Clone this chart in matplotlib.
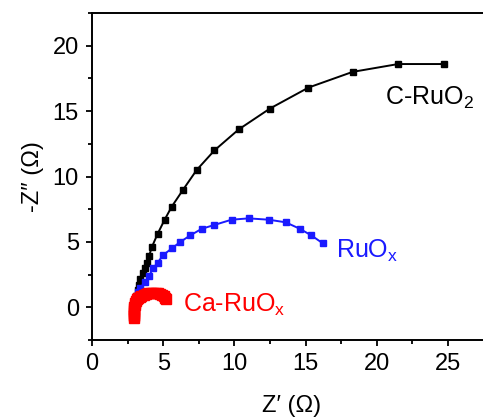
import matplotlib
matplotlib.use("Agg")
import matplotlib.pyplot as plt
from matplotlib.ticker import MultipleLocator

plt.rcParams['font.family'] = ['Liberation Sans', 'DejaVu Sans']
plt.rcParams['mathtext.fontset'] = 'custom'
plt.rcParams['mathtext.rm'] = 'Liberation Sans'
plt.rcParams['mathtext.it'] = 'Liberation Sans'

# C-RuO2
c_ruo2_x = [3.0, 3.1, 3.2, 3.3, 3.4, 3.55, 3.7, 3.85, 4.0, 4.2, 4.6, 5.1, 5.6, 6.4, 7.35, 8.6, 10.3, 12.5, 15.2, 18.3, 21.5, 24.7]
c_ruo2_y = [0.3, 0.9, 1.3, 1.7, 2.2, 2.6, 3.0, 3.4, 3.9, 4.6, 5.6, 6.7, 7.7, 9.0, 10.5, 12.0, 13.6, 15.2, 16.8, 18.0, 18.6, 18.6]

# RuOx
ruox_x = [3.0, 3.1, 3.2, 3.4, 3.7, 4.0, 4.3, 4.6, 5.0, 5.6, 6.2, 6.9, 7.7, 8.6, 9.8, 11.0, 12.4, 13.6, 14.6, 15.4, 16.2]
ruox_y = [0.3, 0.8, 1.2, 1.5, 1.9, 2.4, 3.0, 3.4, 4.0, 4.5, 5.0, 5.5, 6.0, 6.3, 6.7, 6.8, 6.7, 6.5, 6.0, 5.5, 4.9]

# Ca-RuOx
ca_ruox_x = [2.95, 2.95, 2.95, 2.95, 2.95, 2.96, 2.97, 2.99, 3.02, 3.07, 3.14, 3.23, 3.34, 3.47, 3.62, 3.78,
             3.95, 4.12, 4.3, 4.48, 4.65, 4.8, 4.93, 5.04, 5.12, 5.18]
ca_ruox_y = [-0.85, -0.7, -0.55, -0.4, -0.25, -0.1, 0.05, 0.2, 0.35, 0.48, 0.6, 0.71, 0.8, 0.89, 0.96, 1.02,
             1.07, 1.1, 1.11, 1.1, 1.06, 1.0, 0.92, 0.83, 0.74, 0.66]

fig = plt.figure(figsize=(4.83, 4.19), dpi=100)
ax = fig.add_axes([0.1905, 0.1885, 0.8255, 0.7804])

ax.plot(c_ruo2_x, c_ruo2_y, color='black', marker='s', markersize=5, linewidth=1.4)
ax.plot(ruox_x, ruox_y, color='#1a1aff', marker='s', markersize=5, linewidth=1.4)
ax.plot(ca_ruox_x, ca_ruox_y, color='#ff0000', marker='s', markersize=7, linewidth=1.4)

ax.text(20.6, 16.0, r'C-RuO$_2$', fontsize=18, color='black', va='center', ha='left')
ax.text(17.1, 4.35, r'RuO$_\mathrm{x}$', fontsize=18, color='#1a1aff', va='center', ha='left')
ax.text(6.4, 0.15, r'Ca-RuO$_\mathrm{x}$', fontsize=18, color='#ff0000', va='center', ha='left')

ax.set_xlim(0, 28)
ax.set_ylim(-2.5, 22.5)
ax.xaxis.set_major_locator(MultipleLocator(5))
ax.xaxis.set_minor_locator(MultipleLocator(2.5))
ax.yaxis.set_major_locator(MultipleLocator(5))
ax.yaxis.set_minor_locator(MultipleLocator(2.5))
ax.tick_params(which='major', direction='out', length=4.5, width=1.3, labelsize=17, pad=5)
ax.tick_params(which='minor', direction='out', length=3, width=1.3)
for s in ax.spines.values():
    s.set_linewidth(1.4)

ax.set_xlabel('Z\u2032 (\u03A9)', fontsize=17, labelpad=14)
ax.set_ylabel('-Z\u2033 (\u03A9)', fontsize=17, labelpad=6)

fig.savefig('out.png', dpi=100)
